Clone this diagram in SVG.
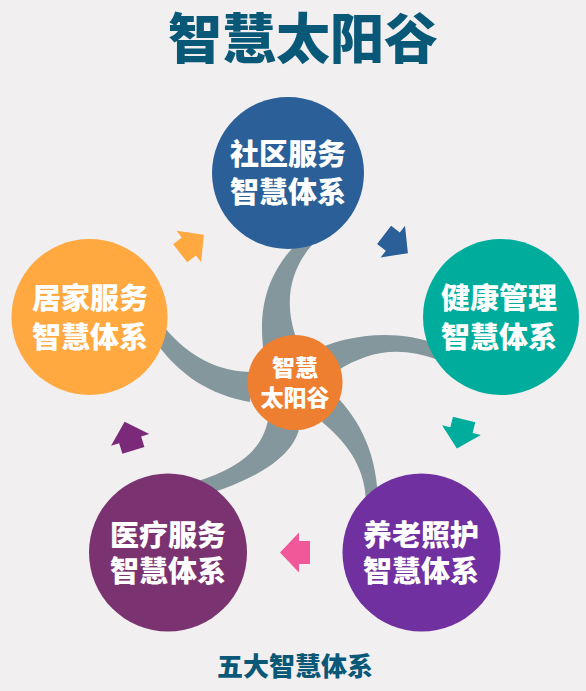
<svg xmlns="http://www.w3.org/2000/svg" width="586" height="691" viewBox="0 0 586 691">
<style>
  .t{font-family:"Noto Sans CJK SC","Noto Sans",sans-serif;font-weight:900;text-anchor:middle;}
  .lbl{fill:#ffffff;font-size:29px;}
  .arm{fill:#83979c;}
</style>
<defs>
  <polygon id="arr" points="-15,-11.5 -4,-11.5 -4,-20 15,0 -4,20 -4,11.5 -15,11.5"/>
</defs>
<rect width="586" height="691" fill="#f1eff0"/>
<text class="t" x="303" y="59" font-size="54" fill="#0a5878">智慧太阳谷</text>
<g id="connectors">
  <path class="arm" d="M263,347 C258,300 272,270 295,245 L312,245 C292,268 282,300 297,340 Z"/>
  <path class="arm" d="M320,348 C350,335 395,328 440,345 L438,360 C400,346 370,350 335,372 Z"/>
  <path class="arm" d="M335,395 C360,420 378,455 378,505 L366,505 C366,470 350,445 322,422 Z"/>
  <path class="arm" d="M300,425 C295,455 260,478 205,495 L195,482 C240,468 262,450 268,420 Z"/>
  <path class="arm" d="M252,372 C220,372 190,358 165,328 L158,345 C180,375 210,395 250,402 Z"/>
  <use href="#arr" fill="#ffa940" transform="translate(192,244) rotate(-38)"/>
  <use href="#arr" fill="#2a5f98" transform="translate(396,244) rotate(37.5)"/>
  <use href="#arr" fill="#00ad9d" transform="translate(460.5,434) rotate(104)"/>
  <use href="#arr" fill="#f0589a" transform="translate(295,552.5) rotate(180)"/>
  <use href="#arr" fill="#7a2a78" transform="translate(129,436) rotate(-107)"/>
</g>
<g id="n-community">
  <circle cx="288" cy="173" r="76" fill="#2a5f98"/>
  <text class="t lbl" x="288" y="165">社区服务</text>
  <text class="t lbl" x="288" y="203">智慧体系</text>
</g>
<g id="n-health">
  <circle cx="501" cy="317" r="78" fill="#00ad9d"/>
  <text class="t lbl" x="499" y="308.5">健康管理</text>
  <text class="t lbl" x="499" y="347.5">智慧体系</text>
</g>
<g id="n-elderly">
  <circle cx="421.5" cy="552.5" r="79" fill="#7030a0"/>
  <text class="t lbl" x="421" y="546">养老照护</text>
  <text class="t lbl" x="421" y="582">智慧体系</text>
</g>
<g id="n-medical">
  <circle cx="168" cy="552.5" r="79" fill="#7a3370"/>
  <text class="t lbl" x="168" y="546">医疗服务</text>
  <text class="t lbl" x="168" y="582">智慧体系</text>
</g>
<g id="n-home">
  <circle cx="89.5" cy="317" r="78" fill="#ffa940"/>
  <text class="t lbl" x="90" y="308.5">居家服务</text>
  <text class="t lbl" x="90" y="347.5">智慧体系</text>
</g>
<g id="n-center">
  <circle cx="295" cy="382.5" r="47.5" fill="#ef7f30"/>
  <text class="t" x="295" y="376" font-size="23" fill="#ffffff">智慧</text>
  <text class="t" x="295" y="406" font-size="23" fill="#ffffff">太阳谷</text>
</g>
<text class="t" x="295" y="676" font-size="26" fill="#0a5878">五大智慧体系</text>
</svg>
